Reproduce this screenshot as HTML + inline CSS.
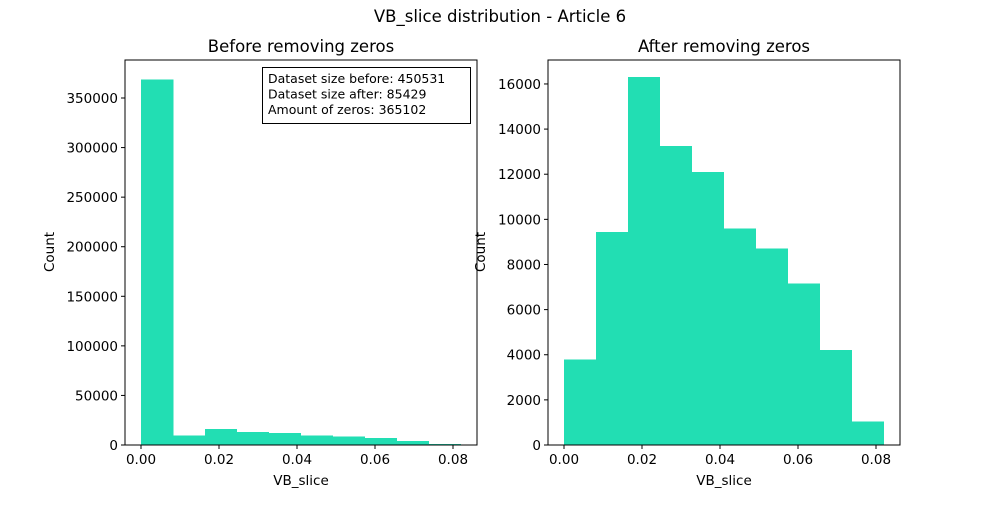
<!DOCTYPE html>
<html><head><meta charset="utf-8"><style>
body{margin:0;background:#fff;font-family:"Liberation Sans","DejaVu Sans",sans-serif}
svg text{font-family:"DejaVu Sans","Liberation Sans",sans-serif}
</style></head><body>
<svg id="c" width="1000" height="500" xmlns="http://www.w3.org/2000/svg">
<rect width="1000" height="500" fill="#fff"/>
<text x="500" y="22" font-size="16.5" text-anchor="middle">VB_slice distribution - Article 6</text>
</svg>
<script>
const binEdgeStart = 0, binWidth = 0.0082;
const countsBefore = [368900, 9450, 16300, 13250, 12100, 9600, 8700, 7150, 4200, 1050];
const countsAfter = [3800, 9450, 16300, 13250, 12100, 9600, 8700, 7150, 4200, 1050];
const xTicks = [0, 0.02, 0.04, 0.06, 0.08];
const xTickLabels = ["0.00", "0.02", "0.04", "0.06", "0.08"];
const yTicksBefore = [0, 50000, 100000, 150000, 200000, 250000, 300000, 350000];
const yTicksAfter = [0, 2000, 4000, 6000, 8000, 10000, 12000, 14000, 16000];
const NS = "http://www.w3.org/2000/svg";
const svg = document.getElementById('c');
function mk(tag, attrs, txt){const e=document.createElementNS(NS,tag);for(const k in attrs)e.setAttribute(k,attrs[k]);if(txt!==undefined)e.textContent=txt;svg.appendChild(e);return e;}
function panel(left, x0px, yPerUnit, counts, yTicks, title, name){
  const top=60,bottom=445,right=left+352;
  const sx=v=>x0px+v*3900;
  const sy=v=>bottom-v*yPerUnit;
  counts.forEach((c,i)=>{
    const x1=sx(binEdgeStart+i*binWidth), x2=sx(binEdgeStart+(i+1)*binWidth);
    const r=mk('rect',{x:x1,y:sy(c),width:x2-x1+0.3,height:bottom-sy(c),fill:'#22deb3','shape-rendering':'crispEdges'});
    
    
  });
  const f=mk('rect',{x:left,y:top,width:right-left,height:bottom-top,fill:'none',stroke:'#000','stroke-width':1});
  
  
  xTicks.forEach((t,i)=>{
    mk('line',{x1:sx(t),x2:sx(t),y1:bottom,y2:bottom+4,stroke:'#000'});
    const l=mk('text',{x:sx(t),y:bottom+19,'font-size':13.5,'text-anchor':'middle'},xTickLabels[i]);
    
    
  });
  yTicks.forEach(t=>{
    mk('line',{x1:left-4,x2:left,y1:sy(t),y2:sy(t),stroke:'#000'});
    const l=mk('text',{x:left-7,y:sy(t)+5,'font-size':13.5,'text-anchor':'end'},String(t));
    
    
  });
  const tt=mk('text',{x:(left+right)/2,y:top-8,'font-size':16.5,'text-anchor':'middle'},title);
  
  
  const xl=mk('text',{x:(left+right)/2,y:485,'font-size':13.5,'text-anchor':'middle'},'VB_slice');
  
  
  return {sy};
}
panel(125, 141, 49.57/50000, countsBefore, yTicksBefore, 'Before removing zeros', 'before');
panel(548, 564, 45.13/2000, countsAfter, yTicksAfter, 'After removing zeros', 'after');
let yl=mk('text',{x:0,y:0,'font-size':13.5,'text-anchor':'middle',transform:'translate(54,252) rotate(-90)'},'Count');


yl=mk('text',{x:0,y:0,'font-size':13.5,'text-anchor':'middle',transform:'translate(485,252) rotate(-90)'},'Count');


const box=mk('rect',{x:262.5,y:67.5,width:208,height:56,fill:'#fff',stroke:'#000','stroke-width':1});


["Dataset size before: 450531","Dataset size after: 85429","Amount of zeros: 365102"].forEach((s,i)=>{
  const t=mk('text',{x:268,y:83+i*15.5,'font-size':12.5},s);
  
  
});
</script>
</body></html>
